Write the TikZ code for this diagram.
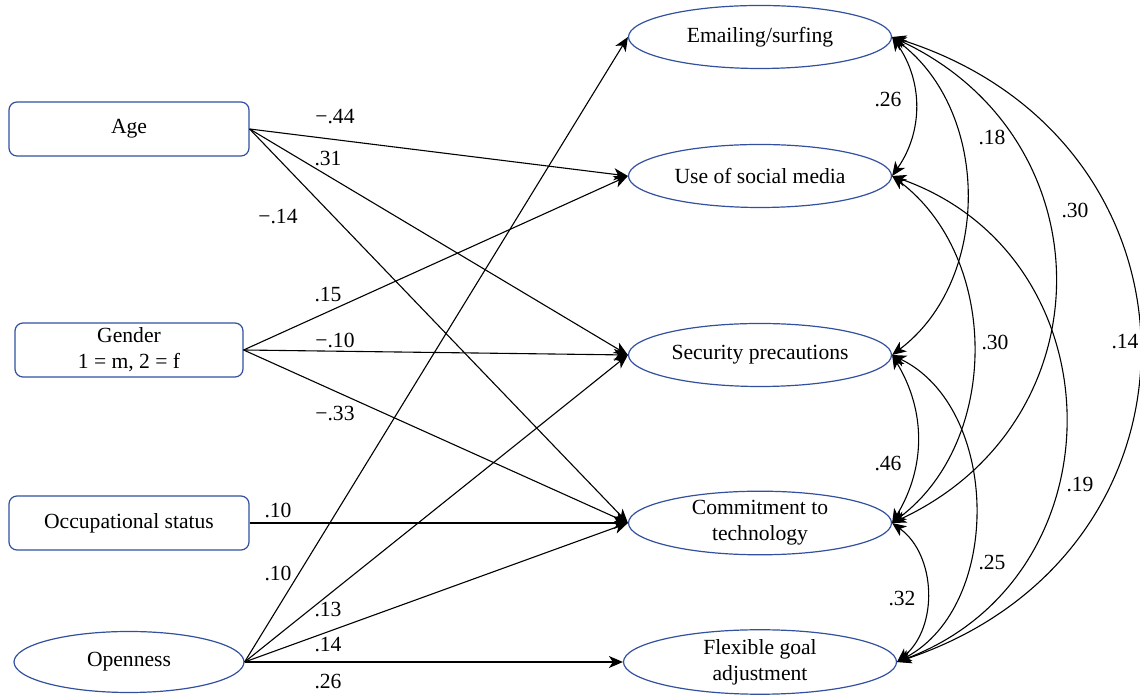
\documentclass[tikz,border=0pt]{standalone}
\usepackage{fontspec}
\setmainfont{Liberation Serif}
\usepackage{xcolor}
\definecolor{frame}{RGB}{50, 80, 158}
\usepackage{tikz}
\usetikzlibrary{shapes, arrows.meta, positioning, calc}
\tikzstyle{observed} = [rectangle, draw=frame, line width=0.6pt, rounded corners=4pt, minimum width=120pt, minimum height=27pt, align=center, inner sep=0pt]
\tikzstyle{latent} = [ellipse, draw=frame, line width=0.6pt, minimum width=131.5pt, minimum height=31.5pt, align=center, inner sep=0pt]
\tikzstyle{effect} = [line width=0.55pt, -{Stealth[length=7pt,width=6pt,inset=2pt]}]
\tikzstyle{covar} = [line width=0.55pt, {Stealth[length=7pt,width=6pt,inset=2pt]}-{Stealth[length=7pt,width=6pt,inset=2pt]}]
\tikzstyle{coef} = [inner sep=1pt]

\begin{document}
\begin{tikzpicture}[x=0.5pt, y=0.5pt, font=\fontsize{10.8}{13}\selectfont]
    \useasboundingbox (0,0) rectangle (1140,695);
    % predictors
    \node[observed] (age) at (129,566) {Age};
    \node[observed, minimum width=114pt] (gender) at (129,345) {Gender\\1 = m, 2 = f};
    \node[observed] (occup) at (129,172) {Occupational status};
    \node[latent, minimum width=115pt, minimum height=30.5pt] (open) at (129,33) {Openness};
    % outcomes
    \node[latent] (email) at (760,658) {Emailing/surfing};
    \node[latent] (social) at (760,519) {Use of social media};
    \node[latent] (secur) at (760,340) {Security precautions};
    \node[latent] (commit) at (760,172) {Commitment to\\technology};
    \node[latent, minimum width=136.5pt] (goal) at (760,33) {Flexible goal\\adjustment};

    % regression paths
    \draw[effect] (age.east) -- (social.west);
    \draw[effect] (age.east) -- (secur.west);
    \draw[effect] (age.east) -- (commit.west);
    \draw[effect] (gender.east) -- (social.west);
    \draw[effect] (gender.east) -- (secur.west);
    \draw[effect] (gender.east) -- (commit.west);
    \draw[effect] (occup.east) -- (commit.west);
    \draw[effect] (open.east) -- (email.west);
    \draw[effect] (open.east) -- (secur.west);
    \draw[effect] (open.east) -- (commit.west);
    \draw[effect] (open.east) -- (goal.west);

    \node[coef] (cAgeSoc) at (335,578) {−.44};
    \node[coef] (cAgeSec) at (328,536) {.31};
    \node[coef] (cAgeCom) at (278,478) {−.14};
    \node[coef] (cGenSoc) at (328,400) {.15};
    \node[coef] (cGenSec) at (335,355) {−.10};
    \node[coef] (cGenCom) at (335,281) {−.33};
    \node[coef] (cOccCom) at (278,185) {.10};
    \node[coef] (cOpeEma) at (278,122) {.10};
    \node[coef] (cOpeSec) at (328,85) {.13};
    \node[coef] (cOpeCom) at (328,50) {.14};
    \node[coef] (cOpeGoa) at (328,13) {.26};

    % covariances
    \draw[covar] (email.east) to[bend left=35] (social.east);
    \draw[covar] (email.east) to[bend left=53] (secur.east);
    \draw[covar] (email.east) to[bend left=65, looseness=1.26] (commit.east);
    \draw[covar] (email.east) to[bend left=72, looseness=1.4] (goal.east);
    \draw[covar] (social.east) to[bend left=53] (commit.east);
    \draw[covar] (social.east) to[bend left=70, looseness=1.27] (goal.east);
    \draw[covar] (secur.east) to[bend left=31] (commit.east);
    \draw[covar] (secur.east) to[bend left=63] (goal.east);
    \draw[covar] (commit.east) to[bend left=52] (goal.east);

    \node[coef] (rEmaSoc) at (888,595) {.26};
    \node[coef] (rEmaSec) at (992,558) {.18};
    \node[coef] (rEmaCom) at (1075,485) {.30};
    \node[coef] (rSocCom) at (995,353) {.30};
    \node[coef] (rEmaGoa) at (1125,353) {.14};
    \node[coef] (rSecCom) at (888,231) {.46};
    \node[coef] (rSocGoa) at (1080,210) {.19};
    \node[coef] (rSecGoa) at (992,132) {.25};
    \node[coef] (rComGoa) at (902,96) {.32};
\end{tikzpicture}
\end{document}
